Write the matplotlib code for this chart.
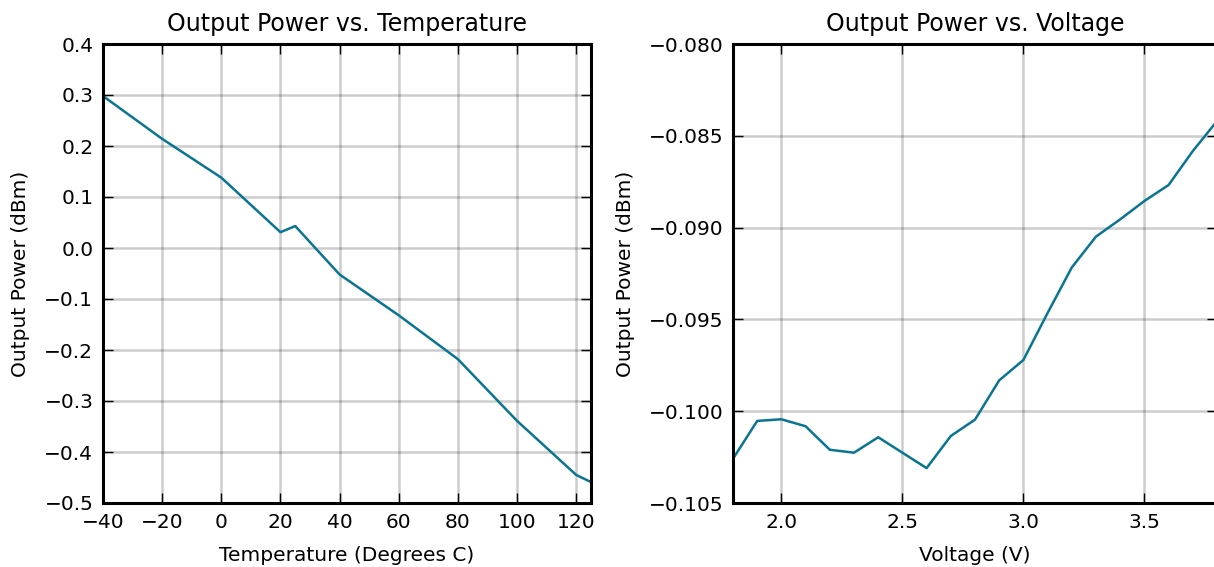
import numpy as np
import matplotlib
matplotlib.use("Agg")
import matplotlib.pyplot as plt

# Output power vs temperature
temperature = [-40, -20, 0, 20, 25, 40, 60, 80, 100, 120, 125]
power_temp = [0.298, 0.214, 0.138, 0.031, 0.043, -0.052, -0.132, -0.218, -0.339, -0.445, -0.459]

# Output power vs voltage
voltage = [1.8, 1.9, 2.0, 2.1, 2.2, 2.3, 2.4, 2.5, 2.6, 2.7, 2.8, 2.9, 3.0,
           3.1, 3.2, 3.3, 3.4, 3.5, 3.6, 3.7, 3.8]
power_volt = [-0.10259, -0.10053, -0.10044, -0.10082, -0.10210, -0.10226,
              -0.10142, -0.10226, -0.10310, -0.10135, -0.10046, -0.09832,
              -0.09721, -0.09465, -0.09217, -0.09049, -0.08955, -0.08855,
              -0.08768, -0.08583, -0.08420]

temp_ticks = [-40, -20, 0, 20, 40, 60, 80, 100, 120]
temp_yticks = [-0.5, -0.4, -0.3, -0.2, -0.1, 0.0, 0.1, 0.2, 0.3, 0.4]
volt_ticks = [2.0, 2.5, 3.0, 3.5]
volt_yticks = [-0.105, -0.100, -0.095, -0.090, -0.085, -0.080]

line_color = "#0a7592"
W, H = 1214, 567

plt.rcParams["font.family"] = "DejaVu Sans"
plt.rcParams["font.size"] = 14

fig = plt.figure(figsize=(W / 100, H / 100), dpi=100)
ax1 = fig.add_axes([103 / W, 64 / H, 488 / W, 459 / H])
ax2 = fig.add_axes([733 / W, 64 / H, 484 / W, 459 / H])


def style_axes(ax):
    for sp in ax.spines.values():
        sp.set_linewidth(2.2)
    ax.tick_params(direction="in", length=7, width=1, top=True, right=True,
                   labelsize=14.5, pad=7)
    ax.grid(True, color="k", alpha=0.2, linewidth=1.8, linestyle="-")
    ax.set_axisbelow(True)


ax1.plot(temperature, power_temp, color=line_color, linewidth=1.8)
ax1.set_xlim(-40, 125)
ax1.set_ylim(-0.5, 0.4)
ax1.set_xticks(temp_ticks)
ax1.set_yticks(temp_yticks)
ax1.set_yticklabels([f"{v:.1f}".replace("-", "\u2212") for v in temp_yticks])
ax1.set_title("Output Power vs. Temperature", fontsize=17, pad=9)
ax1.set_xlabel("Temperature (Degrees C)", fontsize=14.5, labelpad=10)
ax1.set_ylabel("Output Power (dBm)", fontsize=14.5, labelpad=10)
style_axes(ax1)

ax2.plot(voltage, power_volt, color=line_color, linewidth=1.8)
ax2.set_xlim(1.8, 3.8)
ax2.set_ylim(-0.105, -0.080)
ax2.set_xticks(volt_ticks)
ax2.set_yticks(volt_yticks)
ax2.set_yticklabels([f"{v:.3f}".replace("-", "\u2212") for v in volt_yticks])
ax2.set_title("Output Power vs. Voltage", fontsize=17, pad=9)
ax2.set_xlabel("Voltage (V)", fontsize=14.5, labelpad=10)
ax2.set_ylabel("Output Power (dBm)", fontsize=14.5, labelpad=10)
style_axes(ax2)

fig.savefig("out.png", dpi=100)
